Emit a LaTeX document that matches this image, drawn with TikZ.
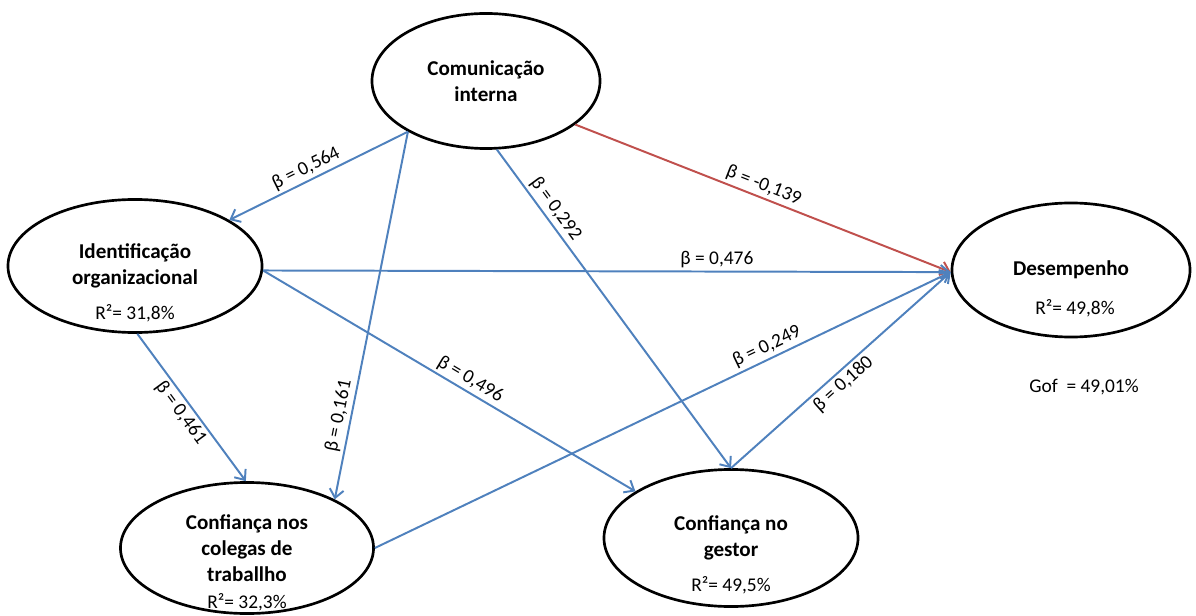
\documentclass[tikz,border=0pt]{standalone}
\usepackage{fontspec}
\setmainfont{Carlito}
\usepackage{tikz}
\usetikzlibrary{
  positioning,
  calc,
  arrows.meta,
  shapes.geometric
}
\definecolor{pathblue}{RGB}{79,129,189}
\definecolor{pathred}{RGB}{192,80,77}
\tikzstyle{latent}=[draw, ellipse, line width=1.9pt, inner sep=0pt, align=center, font=\bfseries\fontsize{15}{18.5}\selectfont]
\tikzstyle{coef}=[-{Straight Barb[length=6pt,width=10pt]}, line width=1.4pt, pathblue]
\tikzstyle{beta}=[sloped, inner sep=2pt, black, font=\fontsize{13.8}{16}\selectfont]
\tikzstyle{rsq}=[inner sep=0pt, font=\fontsize{13.8}{16}\selectfont]

\begin{document}
\begin{tikzpicture}[x=0.025cm, y=-0.025cm]
    \useasboundingbox (0,0) rectangle (1196,616);

    % 潜在変数
    \node[latent, minimum width=5.7cm, minimum height=3.375cm] (ci) at (486,81) {Comunicação\\interna};
    \node[latent, minimum width=6.35cm, minimum height=3.325cm] (io) at (135,266) {Identificação\\organizacional};
    \node[latent, minimum width=5.95cm, minimum height=3.35cm] (de) at (1071,270) {Desempenho};
    \node[latent, minimum width=6.35cm, minimum height=3.425cm] (cg) at (731,538) {Confiança no\\gestor};
    \node[latent, minimum width=6.325cm, minimum height=3.275cm] (cc) at (247,548) {Confiança nos\\colegas de\\traballho};

    % 決定係数
    \node[rsq] (io-r) at (135,313) {R²= 31,8\%};
    \node[rsq] (de-r) at (1075,308) {R²= 49,8\%};
    \node[rsq] (cg-r) at (731,585) {R²= 49,5\%};
    \node[rsq] (cc-r) at (247,602) {R²= 32,3\%};
    \node[rsq] (gof) at (1084,387) {Gof~ = 49,01\%};

    % パス係数
    \draw[coef] (ci.213) -- (io.26) node[beta, pos=0.54, above] {β = 0,564};
    \draw[coef] (ci.213) -- (cc.29) node[beta, pos=0.78, above] {β = 0,161};
    \draw[coef] (ci.279) -- (cg.90) node[beta, pos=0.21, above] {β = 0,292};
    \draw[coef, pathred] (ci.334) -- (de.181) node[beta, pos=0.49, above] {β = -0,139};
    \draw[coef] (io.358) -- (de.181) node[beta, pos=0.66, above] {β = 0,476};
    \draw[coef] (io.358) -- (cg.154) node[beta, pos=0.54, above] {β = 0,496};
    \draw[coef] (io.272) -- (cc.91) node[beta, pos=0.49, below] {β = 0,461};
    \draw[coef] (cc.0) -- (de.181) node[beta, pos=0.69, above] {β = 0,249};
    \draw[coef] (cg.90) -- (de.181) node[beta, pos=0.475, below] {β = 0,180};
\end{tikzpicture}
\end{document}
